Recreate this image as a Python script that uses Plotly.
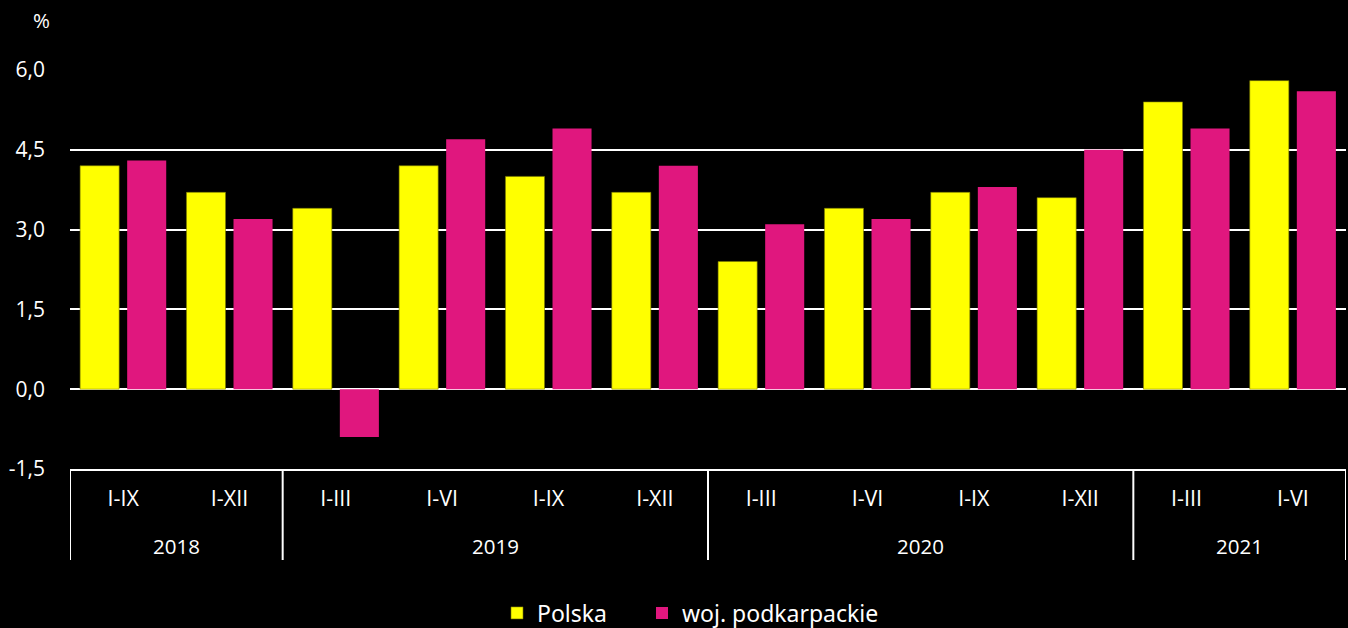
import plotly.graph_objects as go

years = ["2018", "2018", "2019", "2019", "2019", "2019", "2020", "2020", "2020", "2020", "2021", "2021"]
periods = ["I-IX", "I-XII", "I-III", "I-VI", "I-IX", "I-XII", "I-III", "I-VI", "I-IX", "I-XII", "I-III", "I-VI"]
polska = [4.2, 3.7, 3.4, 4.2, 4.0, 3.7, 2.4, 3.4, 3.7, 3.6, 5.4, 5.8]
podkarpackie = [4.3, 3.2, -0.9, 4.7, 4.9, 4.2, 3.1, 3.2, 3.8, 4.5, 4.9, 5.6]
y_ticks = [-1.5, 0.0, 1.5, 3.0, 4.5, 6.0]
y_tick_labels = ["-1,5", "0,0", "1,5", "3,0", "4,5", "6,0"]

FONT = "Open Sans"
LEGEND_FONT = "Noto Sans"
WHITE = "white"

keys = [f"{y} {p}" for y, p in zip(years, periods)]
n = len(keys)

fig = go.Figure()
fig.add_trace(go.Bar(x=keys, y=polska, name="Polska", legend="legend",
                     marker=dict(color="#FFFF00", line=dict(color="#7a7a00", width=0.6))))
fig.add_trace(go.Bar(x=keys, y=podkarpackie, name="woj. podkarpackie", legend="legend2",
                     marker=dict(color="#E0177E", line=dict(width=0))))

# year group boundaries and centres
bounds = [-0.5]
for i in range(1, n):
    if years[i] != years[i - 1]:
        bounds.append(i - 0.5)
bounds.append(n - 0.5)

shapes = []
annotations = []
div_len = 91 / 399
for b in bounds:
    shapes.append(dict(type="line", xref="x", yref="paper", x0=b, x1=b, y0=0, y1=-div_len,
                       line=dict(color=WHITE, width=2)))
for a, b in zip(bounds[:-1], bounds[1:]):
    yr = years[int(a + 0.5)]
    annotations.append(dict(text=yr, x=(a + b) / 2, xref="x", y=0, yref="paper",
                            yshift=-77, yanchor="middle", showarrow=False,
                            font=dict(size=20.5, color=WHITE, family=FONT)))
annotations.append(dict(text="%", x=-29 / 1276, xref="paper", y=1, yref="paper",
                        showarrow=False, yshift=50, yanchor="middle", xanchor="center",
                        font=dict(size=20.5, color=WHITE, family=FONT)))

legend_common = dict(orientation="h", xanchor="left", y=0.024, yanchor="middle",
                     yref="container", font=dict(size=23, color=WHITE, family=LEGEND_FONT),
                     itemwidth=30, bgcolor="rgba(0,0,0,0)")

fig.update_layout(
    width=1348, height=628,
    paper_bgcolor="black", plot_bgcolor="black",
    barmode="group", bargap=0.115, bargroupgap=0.17,
    margin=dict(l=70, r=2, t=70, b=159),
    font=dict(family=FONT, color=WHITE, size=20),
    legend=dict(x=(497 - 70) / 1276, **legend_common),
    legend2=dict(x=(642 - 70) / 1276, **legend_common),
    showlegend=True,
    shapes=shapes,
    annotations=annotations,
)

fig.update_yaxes(range=[-1.5, 6.0], tickvals=y_ticks, ticktext=y_tick_labels,
                 showgrid=True, gridcolor=WHITE, gridwidth=2,
                 zeroline=True, zerolinecolor=WHITE, zerolinewidth=2,
                 showline=False, ticks="", ticklabelstandoff=24,
                 tickfont=dict(size=21, color=WHITE, family=FONT))
fig.update_xaxes(type="category", range=[-0.5, n - 0.5], tickvals=keys, ticktext=periods,
                 showline=True, linecolor=WHITE, linewidth=2, showgrid=False,
                 ticks="", ticklabelstandoff=9, tickfont=dict(size=21.5, color=WHITE, family=FONT))

fig.write_html("out.html", config={"displayModeBar": False},
               post_script="document.body.style.margin='0';document.body.style.overflow='hidden';")
